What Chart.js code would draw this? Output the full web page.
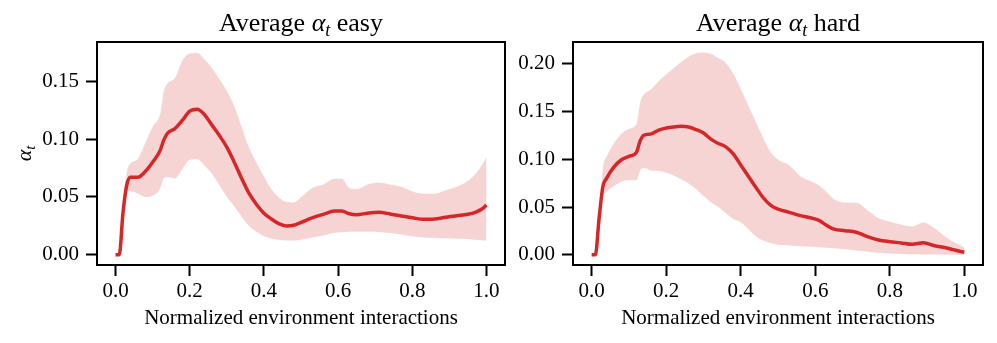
<!DOCTYPE html>
<html>
<head>
<meta charset="utf-8">
<script src="https://cdn.jsdelivr.net/npm/chart.js@4.4.1/dist/chart.umd.min.js"></script>
<style>
  html, body { margin: 0; padding: 0; background: #fff; }
  #wrap { position: relative; width: 997px; height: 343px; }
  .box { position: absolute; top: 0; height: 343px; }
  #boxEasy { left: 0; width: 510px; }
  #boxHard { left: 510px; width: 487px; }
</style>
</head>
<body>
<div id="wrap">
  <div class="box" id="boxEasy"><canvas id="chartEasy"></canvas></div>
  <div class="box" id="boxHard"><canvas id="chartHard"></canvas></div>
</div>
<script>
// normalized environment interactions (shared x grid)
const steps = [0, 0.01, 0.02, 0.03, 0.04, 0.06, 0.08, 0.10, 0.12, 0.13, 0.14, 0.16, 0.18, 0.20,
  0.22, 0.24, 0.26, 0.28, 0.30, 0.32, 0.34, 0.36, 0.38, 0.40, 0.42, 0.44, 0.46, 0.48, 0.50,
  0.53, 0.56, 0.59, 0.61, 0.63, 0.65, 0.68, 0.71, 0.74, 0.77, 0.80, 0.83, 0.86, 0.89, 0.92,
  0.95, 0.97, 0.99, 1.0];

// easy
const easyMean = [0, 0, 0.036, 0.060, 0.067, 0.067, 0.072, 0.080, 0.090, 0.099, 0.105, 0.109, 0.116, 0.124,
  0.1256, 0.121, 0.112, 0.103, 0.093, 0.080, 0.066, 0.053, 0.0435, 0.036, 0.031, 0.027, 0.025, 0.0255, 0.028,
  0.032, 0.035, 0.0378, 0.0378, 0.0355, 0.0347, 0.036, 0.0367, 0.0353, 0.0335, 0.032, 0.0307, 0.031, 0.0325, 0.0338,
  0.035, 0.0367, 0.040, 0.043];
const easyUpper = [0, 0, 0.045, 0.072, 0.079, 0.083, 0.097, 0.111, 0.122, 0.142, 0.148, 0.153, 0.168, 0.174,
  0.1745, 0.169, 0.1615, 0.152, 0.142, 0.129, 0.111, 0.093, 0.080, 0.068, 0.057, 0.050, 0.046, 0.0455, 0.050,
  0.058, 0.061, 0.066, 0.066, 0.058, 0.057, 0.061, 0.0625, 0.061, 0.059, 0.055, 0.053, 0.053, 0.056, 0.059,
  0.064, 0.070, 0.079, 0.085];
const easyLower = [0, 0, 0.030, 0.054, 0.055, 0.053, 0.050, 0.051, 0.057, 0.066, 0.067, 0.066, 0.074, 0.082,
  0.0826, 0.077, 0.070, 0.060, 0.050, 0.042, 0.033, 0.025, 0.020, 0.016, 0.014, 0.013, 0.0123, 0.0123, 0.013,
  0.015, 0.0168, 0.019, 0.0195, 0.020, 0.020, 0.020, 0.0197, 0.0188, 0.0175, 0.016, 0.015, 0.0145, 0.0143, 0.014,
  0.0138, 0.013, 0.0125, 0.0123];

// hard
const hardMean = [0, 0, 0.038, 0.071, 0.080, 0.092, 0.0995, 0.103, 0.107, 0.119, 0.125, 0.1265, 0.1305, 0.1326,
  0.1338, 0.1344, 0.1337, 0.131, 0.1275, 0.121, 0.1165, 0.113, 0.1055, 0.094, 0.0825, 0.071, 0.060, 0.052, 0.0478,
  0.0445, 0.041, 0.0385, 0.036, 0.031, 0.027, 0.0253, 0.0237, 0.019, 0.0155, 0.0138, 0.0125, 0.011, 0.0126, 0.0095,
  0.0075, 0.0055, 0.0035, 0.0028];
const hardUpper = [0, 0, 0.045, 0.092, 0.103, 0.117, 0.127, 0.132, 0.137, 0.160, 0.168, 0.1735, 0.182, 0.189,
  0.1955, 0.202, 0.2075, 0.211, 0.212, 0.2105, 0.206, 0.201, 0.190, 0.174, 0.157, 0.140, 0.123, 0.108, 0.100,
  0.094, 0.0825, 0.077, 0.073, 0.066, 0.0585, 0.055, 0.0548, 0.047, 0.0385, 0.035, 0.032, 0.030, 0.0342, 0.028,
  0.019, 0.014, 0.010, 0.008];
const hardLower = [0, 0, 0.032, 0.060, 0.066, 0.072, 0.0765, 0.078, 0.078, 0.088, 0.091, 0.088, 0.0878, 0.086,
  0.083, 0.079, 0.0745, 0.069, 0.0615, 0.055, 0.050, 0.0435, 0.0375, 0.034, 0.027, 0.0195, 0.015, 0.0125, 0.0105,
  0.0098, 0.009, 0.0084, 0.008, 0.0075, 0.007, 0.0058, 0.0045, 0.0033, 0.0022, 0.0015, 0.001, 0.0007, 0.0005, 0.0003,
  0.0002, 0.0001, 0, 0];

const xTicks = [0, 0.2, 0.4, 0.6, 0.8, 1.0];
const easyTicks = [0, 0.05, 0.10, 0.15];
const hardTicks = [0, 0.05, 0.10, 0.15, 0.20];

const RED = "#d62728";
const BAND = "rgba(214, 39, 40, 0.2)";
const EDGE = "rgba(255, 255, 255, 0.45)";
const FONT = "'Liberation Serif', 'DejaVu Serif', serif";

function pts(ys) {
  return steps.map((x, i) => ({ x: x, y: ys[i] }));
}

// text with an italic alpha and a subscript t
function mathWidth(ctx, parts) {
  let w = 0;
  parts.forEach(p => { ctx.font = p.font; w += ctx.measureText(p.text).width; });
  return w;
}
function drawMath(ctx, parts, cx, baseY) {
  let x = cx - mathWidth(ctx, parts) / 2;
  parts.forEach(p => {
    ctx.font = p.font;
    ctx.fillText(p.text, x, baseY + (p.dy || 0));
    x += ctx.measureText(p.text).width;
  });
}
function alphaT(pre, post, size) {
  const parts = [];
  if (pre) parts.push({ text: pre, font: size + "px " + FONT });
  parts.push({ text: "α", font: "italic " + size + "px " + FONT });
  parts.push({ text: "t", font: "italic " + Math.round(size * 0.7) + "px " + FONT, dy: Math.round(size * 0.2) });
  if (post) parts.push({ text: post, font: size + "px " + FONT });
  return parts;
}

const framePlugin = {
  id: "frame",
  afterDraw(chart, args, opts) {
    const { ctx, chartArea: a } = chart;
    ctx.save();
    ctx.strokeStyle = "#000";
    ctx.lineWidth = 2;
    ctx.strokeRect(a.left, a.top, a.right - a.left, a.bottom - a.top);
    ctx.fillStyle = "#000";
    ctx.textBaseline = "alphabetic";
    ctx.textAlign = "left";
    drawMath(ctx, alphaT("Average ", " " + opts.title, 26), (a.left + a.right) / 2, 31);
    if (opts.yLabel) {
      ctx.translate(31, (a.top + a.bottom) / 2);
      ctx.rotate(-Math.PI / 2);
      drawMath(ctx, alphaT("", "", 22), 0, 0);
    }
    ctx.restore();
  }
};

function makeChart(id, mean, upper, lower, yMin, yMax, yTicks, title, yLabel, yWidth, padRight) {
  return new Chart(document.getElementById(id), {
    type: "line",
    data: {
      datasets: [
        {
          data: pts(mean),
          borderColor: RED,
          borderWidth: 3.5,
          pointRadius: 0,
          cubicInterpolationMode: "monotone",
          fill: false,
          order: 0,
        },
        {
          data: pts(upper),
          borderColor: EDGE,
          borderWidth: 1,
          backgroundColor: BAND,
          pointRadius: 0,
          cubicInterpolationMode: "monotone",
          fill: "+1",
          order: 1,
        },
        {
          data: pts(lower),
          borderColor: EDGE,
          borderWidth: 1,
          pointRadius: 0,
          cubicInterpolationMode: "monotone",
          fill: false,
          order: 2,
        },
      ],
    },
    options: {
      responsive: true,
      maintainAspectRatio: false,
      animation: false,
      layout: { padding: { top: 42, right: padRight, left: 0, bottom: 0 } },
      plugins: {
        legend: { display: false },
        tooltip: { enabled: false },
        frame: { title: title, yLabel: yLabel },
      },
      scales: {
        x: {
          type: "linear",
          min: -0.05,
          max: 1.05,
          afterBuildTicks: s => { s.ticks = xTicks.map(v => ({ value: v })); },
          afterFit: s => { s.height = 78; },
          ticks: {
            callback: v => v.toFixed(1),
            color: "#000",
            font: { family: FONT, size: 21 },
            padding: 3,
            maxRotation: 0,
            autoSkip: false,
          },
          grid: { display: true, drawOnChartArea: false, drawTicks: true, tickLength: 11, tickWidth: 2, tickColor: "#000" },
          border: { display: true, color: "#000", width: 2 },
          title: {
            display: true,
            text: "Normalized environment interactions",
            color: "#000",
            font: { family: FONT, size: 21 },
            padding: { top: 0, bottom: 12 },
          },
        },
        y: {
          type: "linear",
          min: yMin,
          max: yMax,
          afterBuildTicks: s => { s.ticks = yTicks.map(v => ({ value: v })); },
          afterFit: s => { s.width = yWidth; },
          ticks: {
            callback: v => v.toFixed(2),
            color: "#000",
            font: { family: FONT, size: 21 },
            padding: 7,
            autoSkip: false,
          },
          grid: { display: true, drawOnChartArea: false, drawTicks: true, tickLength: 11, tickWidth: 2, tickColor: "#000" },
          border: { display: true, color: "#000", width: 2 },
        },
      },
    },
    plugins: [framePlugin],
  });
}

makeChart("chartEasy", easyMean, easyUpper, easyLower, -0.00875, 0.18375, easyTicks, "easy", true, 97, 5);
makeChart("chartHard", hardMean, hardUpper, hardLower, -0.0106, 0.2226, hardTicks, "hard", false, 63, 14);
</script>
</body>
</html>
